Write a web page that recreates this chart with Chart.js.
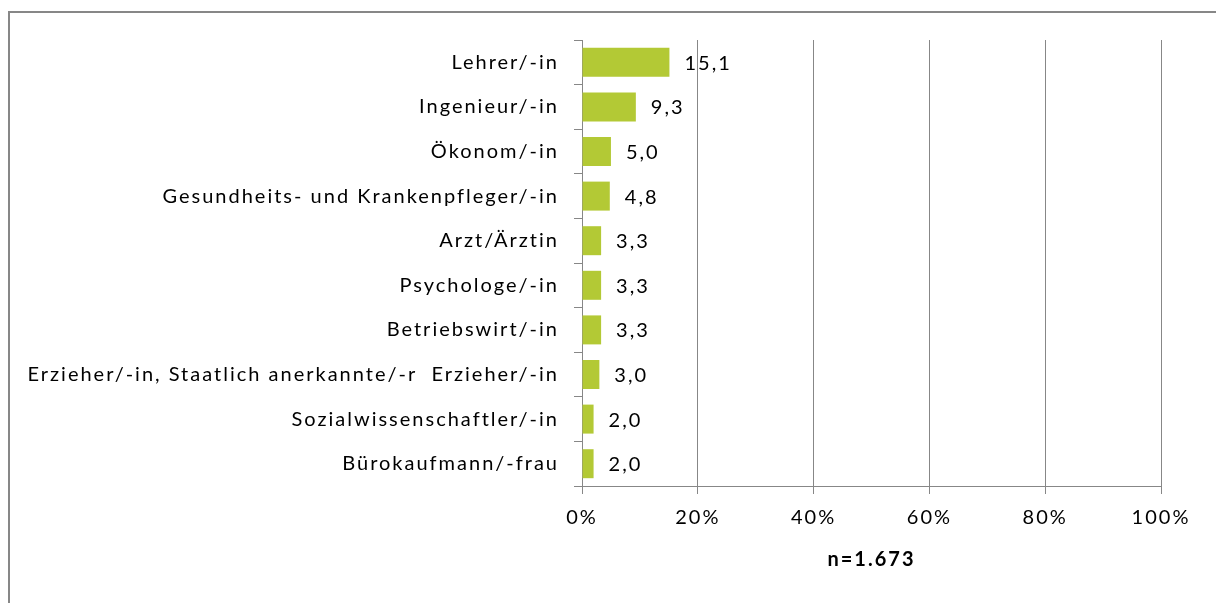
<!DOCTYPE html>
<html><head><meta charset="utf-8">
<script src="https://cdn.jsdelivr.net/npm/chart.js@4/dist/chart.umd.min.js"></script>
<style>
html,body{margin:0;padding:0;background:#fff;overflow:hidden}
#wrap{position:absolute;left:0;top:0;width:1216px;height:603px}
#frame{position:absolute;left:8px;top:11px;width:1230px;height:620px;border:2px solid #878787;box-sizing:border-box}
canvas{position:absolute;left:0;top:0}
</style></head><body>
<div id="wrap"><div id="frame"></div><canvas id="c" width="1216" height="603"></canvas></div>
<script>
const categories = ["Lehrer/-in","Ingenieur/-in","Ökonom/-in","Gesundheits- und Krankenpfleger/-in","Arzt/Ärztin","Psychologe/-in","Betriebswirt/-in","Erzieher/-in, Staatlich anerkannte/-r  Erzieher/-in","Sozialwissenschaftler/-in","Bürokaufmann/-frau"];
const values = [15.1, 9.3, 5.0, 4.8, 3.3, 3.3, 3.3, 3.0, 2.0, 2.0];
const xTicks = [0, 20, 40, 60, 80, 100];
const axisTitle = "n=1.673";

const FONT = "Lato, 'Open Sans', sans-serif";
const FS = 20;
const GRID = "#878787";

const spacing = {
  id: 'spacing',
  beforeDraw(chart) { chart.ctx.letterSpacing = '2px'; }
};

const valueLabels = {
  id: 'valueLabels',
  afterDatasetsDraw(chart) {
    const ctx = chart.ctx;
    const meta = chart.getDatasetMeta(0);
    ctx.save();
    ctx.letterSpacing = '2px';
    ctx.font = FS + "px " + FONT;
    ctx.fillStyle = "#000";
    ctx.textAlign = "left";
    ctx.textBaseline = "middle";
    meta.data.forEach((bar, i) => {
      ctx.fillText(values[i].toFixed(1).replace('.', ','), bar.x + 15, bar.y + 1);
    });
    ctx.restore();
  }
};

new Chart(document.getElementById('c'), {
  type: 'bar',
  data: {
    labels: categories,
    datasets: [{
      data: values,
      backgroundColor: '#b3c935',
      categoryPercentage: 0.65,
      barPercentage: 1.0
    }]
  },
  options: {
    indexAxis: 'y',
    responsive: false,
    animation: false,
    layout: { padding: { top: 40, right: 55, left: 0, bottom: 0 } },
    plugins: { legend: { display: false }, tooltip: { enabled: false } },
    scales: {
      x: {
        min: 0, max: 100,
        afterBuildTicks(scale) { scale.ticks = xTicks.map(v => ({ value: v })); },
        afterFit(scale) { scale.height = 117; },
        ticks: { callback: v => v + '%', color: '#000', font: { family: FONT, size: FS }, padding: 12, maxRotation: 0 },
        grid: { color: GRID, lineWidth: 1, tickLength: 8, drawOnChartArea: true },
        border: { color: GRID, width: 1 },
        title: { display: true, text: axisTitle, color: '#000', font: { family: FONT, size: FS, weight: 'bold' }, padding: { top: 0, bottom: 31 } }
      },
      y: {
        afterFit(scale) { scale.width = 582; },
        ticks: { color: '#000', font: { family: FONT, size: FS }, padding: 15, autoSkip: false },
        grid: { color: GRID, lineWidth: 1, tickLength: 8, offset: true, drawOnChartArea: false },
        border: { color: GRID, width: 1 }
      }
    }
  },
  plugins: [spacing, valueLabels]
});
</script>
</body></html>
